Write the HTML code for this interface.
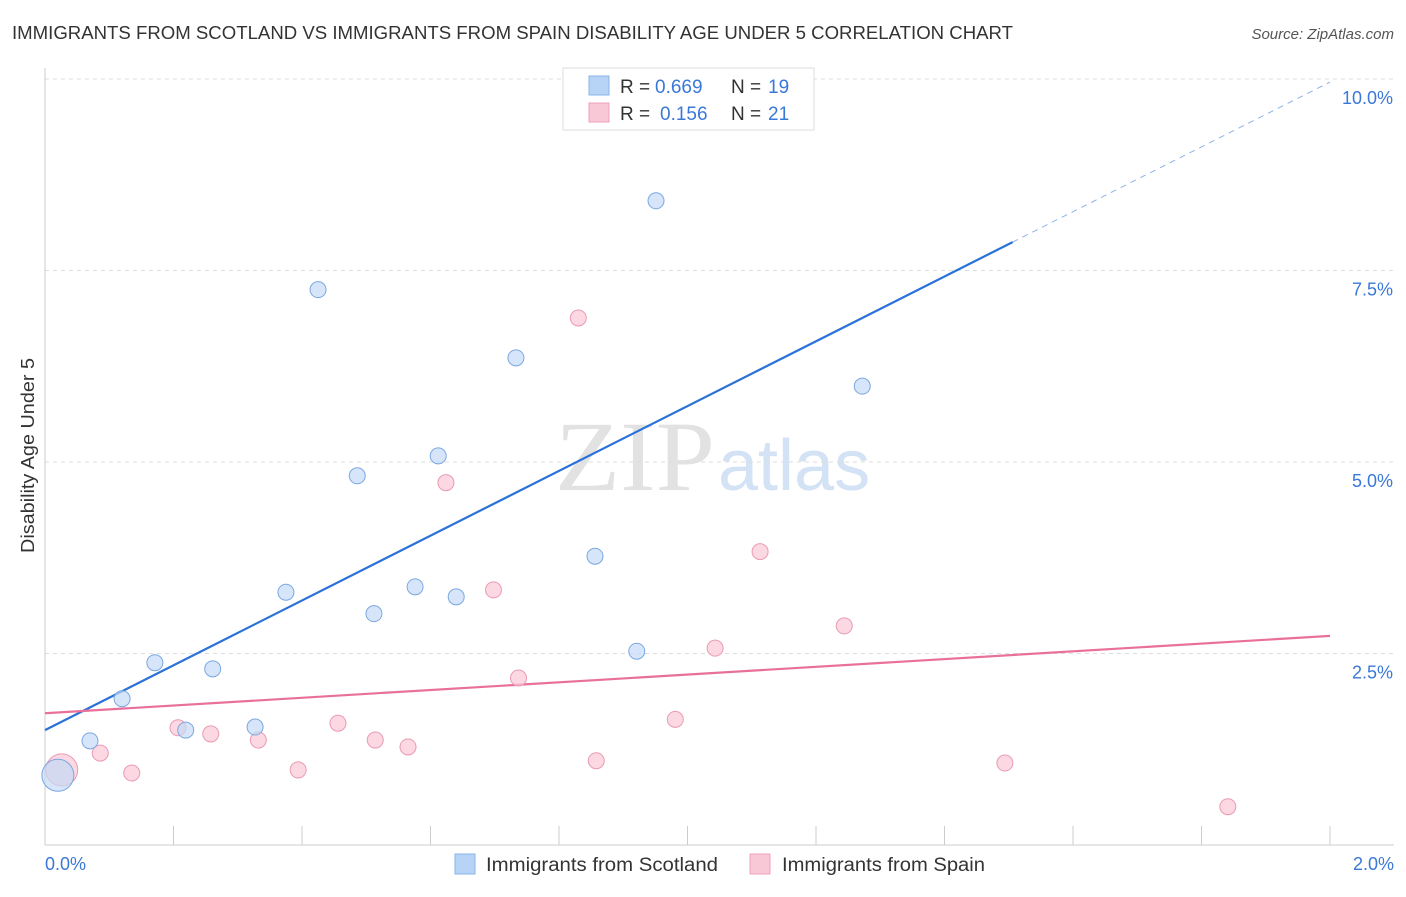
<!DOCTYPE html>
<html><head><meta charset="utf-8"><style>
body{margin:0;background:#fff;font-family:"Liberation Sans",sans-serif}
</style></head><body>
<svg id="chart" width="1406" height="892" xmlns="http://www.w3.org/2000/svg" font-family="Liberation Sans, sans-serif">
<text x="12" y="39" font-size="18" fill="#333" textLength="1001" lengthAdjust="spacingAndGlyphs">IMMIGRANTS FROM SCOTLAND VS IMMIGRANTS FROM SPAIN DISABILITY AGE UNDER 5 CORRELATION CHART</text>
<text x="1394" y="39" font-size="15" fill="#555" font-style="italic" text-anchor="end">Source: ZipAtlas.com</text>
<text transform="translate(34,553) rotate(-90)" font-size="18" fill="#333" textLength="195" lengthAdjust="spacingAndGlyphs">Disability Age Under 5</text>
<g>
<text x="555" y="490" font-size="100" fill="#e2e2e2" style="font-family:'Liberation Serif',serif" textLength="160" lengthAdjust="spacingAndGlyphs">ZIP</text>
<text x="718" y="490" font-size="72" fill="#d3e2f5">atlas</text>
</g>
<g id="grid"></g><g id="axes"></g><g id="lines"></g><g id="points"></g>
<g>
<rect x="563" y="68" width="251" height="62" fill="#fff" stroke="#ddd"/>
<rect x="589" y="76" width="20" height="19" fill="#b7d3f5" stroke="#8ab4e8"/>
<text x="620" y="93" font-size="19" fill="#333">R =</text>
<text x="655" y="93" font-size="19" fill="#3a78d8">0.669</text>
<text x="731" y="93" font-size="19" fill="#333">N =</text>
<text x="768" y="93" font-size="19" fill="#3a78d8">19</text>
<rect x="589" y="103" width="20" height="19" fill="#f9c8d6" stroke="#f0a0b8"/>
<text x="620" y="120" font-size="19" fill="#333">R =</text>
<text x="660" y="120" font-size="19" fill="#3a78d8">0.156</text>
<text x="731" y="120" font-size="19" fill="#333">N =</text>
<text x="768" y="120" font-size="19" fill="#3a78d8">21</text>
</g>
<g>
<rect x="455" y="854" width="20" height="20" fill="#b7d3f5" stroke="#8ab4e8"/>
<text x="486" y="871" font-size="19" fill="#333" textLength="232" lengthAdjust="spacingAndGlyphs">Immigrants from Scotland</text>
<rect x="750" y="854" width="20" height="20" fill="#f9c8d6" stroke="#f0a0b8"/>
<text x="782" y="871" font-size="19" fill="#333" textLength="203" lengthAdjust="spacingAndGlyphs">Immigrants from Spain</text>
</g>
</svg>
<script>
const scotX=[0.020,0.070,0.120,0.171,0.219,0.261,0.327,0.375,0.425,0.486,0.512,0.576,0.612,0.640,0.733,0.856,0.921,0.951,1.272];
const scotY=[0.91,1.36,1.91,2.38,1.50,2.30,1.54,3.30,7.25,4.82,3.02,3.37,5.08,3.24,6.36,3.77,2.53,8.41,5.99];
const spainX=[0.026,0.086,0.135,0.207,0.258,0.332,0.394,0.456,0.514,0.565,0.624,0.698,0.737,0.830,0.858,0.981,1.043,1.113,1.244,1.494,1.841];
const spainY=[0.98,1.20,0.94,1.53,1.45,1.37,0.98,1.59,1.37,1.28,4.73,3.33,2.18,6.88,1.10,1.64,2.57,3.83,2.86,1.07,0.50];
const yTicks=[2.5,5.0,7.5,10.0];
const yTickLabels=["2.5%","5.0%","7.5%","10.0%"];
const xTicks=[0,0.2,0.4,0.6,0.8,1.0,1.2,1.4,1.6,1.8,2.0];
const scotLine=[1.50,4.23];
const spainLine=[1.72,0.505];
const NS="http://www.w3.org/2000/svg";
const sx=v=>45+v*642.5, sy=v=>845-v*76.6;
function mk(t,a,p){const e=document.createElementNS(NS,t);for(const k in a)e.setAttribute(k,a[k]);p.appendChild(e);return e;}
const grid=document.getElementById('grid'),axes=document.getElementById('axes'),lines=document.getElementById('lines'),pts=document.getElementById('points');
yTicks.forEach((t,i)=>{
 const l=mk('line',{x1:45,x2:1394,y1:sy(t),y2:sy(t),stroke:'#ddd','stroke-dasharray':'4,4'},grid);
 
 
 const tx=mk('text',{x:1393,y:sy(t)+25,'font-size':18,fill:'#3a78d8','text-anchor':'end'},axes);
 tx.textContent=yTickLabels[i];
 
 
});
const yax=mk('line',{x1:45,x2:45,y1:68,y2:845,stroke:'#ccc'},axes);


const xax=mk('line',{x1:45,x2:1394,y1:845,y2:845,stroke:'#ccc'},axes);


xTicks.forEach(t=>{const l=mk('line',{x1:sx(t),x2:sx(t),y1:826,y2:845,stroke:'#ccc'},axes);
 
 });
[[0,'0.0%','start',45],[2,'2.0%','end',1394]].forEach(d=>{const tx=mk('text',{x:d[3],y:870,'font-size':18,fill:'#3a78d8','text-anchor':d[2]},axes);tx.textContent=d[1];
 
 });
const bx=1.506;
let l1=mk('line',{x1:sx(0),y1:sy(scotLine[0]),x2:sx(bx),y2:sy(scotLine[0]+scotLine[1]*bx),stroke:'#2a72d8','stroke-width':2.2},lines);


let l2=mk('line',{x1:sx(bx),y1:sy(scotLine[0]+scotLine[1]*bx),x2:sx(2),y2:sy(scotLine[0]+scotLine[1]*2),stroke:'#8ab4e8','stroke-width':1,'stroke-dasharray':'6,5'},lines);


let l3=mk('line',{x1:sx(0),y1:sy(spainLine[0]),x2:sx(2),y2:sy(spainLine[0]+spainLine[1]*2),stroke:'#e8709a','stroke-width':2.2},lines);


spainX.forEach((x,i)=>{const c=mk('circle',{cx:sx(x),cy:sy(spainY[i]),r:i==0?16:8,fill:'#f9c8d6','fill-opacity':0.7,stroke:'#eb9ab4','stroke-width':1},pts);
 
 });
scotX.forEach((x,i)=>{const c=mk('circle',{cx:sx(x),cy:sy(scotY[i]),r:i==0?16:8,fill:'#c4daf6','fill-opacity':0.7,stroke:'#7aa8e0','stroke-width':1},pts);
 
 });
</script>
</body></html>
